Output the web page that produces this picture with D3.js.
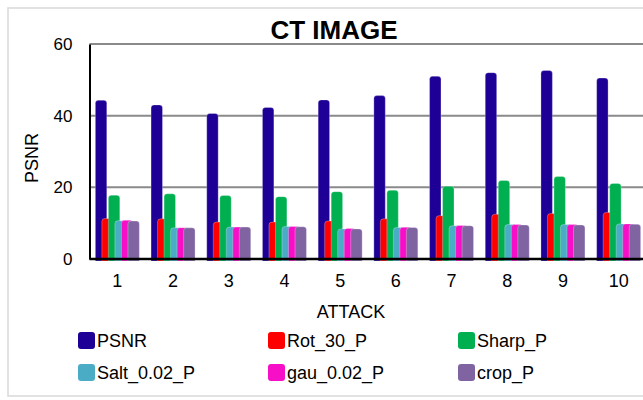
<!DOCTYPE html>
<html>
<head>
<meta charset="utf-8">
<script src="https://cdn.jsdelivr.net/npm/d3@7"></script>
<style>
  body { margin: 0; background: #fff; }
  svg { display: block; font-family: "Liberation Sans", Arial, sans-serif; }
</style>
</head>
<body>
<svg id="chart" width="643" height="400"></svg>
<script>
// data
var attacks = ["1", "2", "3", "4", "5", "6", "7", "8", "9", "10"];
var seriesNames = ["PSNR", "Rot_30_P", "Sharp_P", "Salt_0.02_P", "gau_0.02_P", "crop_P"];
var seriesColors = ["#1f0096", "#ff0000", "#00b050", "#4bacc6", "#f70fc8", "#8064a2"];
var psnr   = [44.3, 43.0, 40.6, 42.3, 44.4, 45.6, 51.0, 52.0, 52.6, 50.5];
var rot30  = [11.3, 11.2, 10.3, 10.3, 10.6, 11.2, 12.1, 12.5, 12.7, 13.0];
var sharp  = [17.8, 18.2, 17.7, 17.4, 18.8, 19.2, 20.3, 21.9, 23.0, 21.1];
var salt   = [10.7, 8.7, 8.9, 9.1, 8.4, 8.8, 9.3, 9.6, 9.6, 9.8];
var gau    = [10.8, 8.75, 8.9, 9.1, 8.5, 8.85, 9.35, 9.6, 9.6, 9.8];
var crop   = [10.6, 8.7, 8.9, 9.0, 8.4, 8.8, 9.3, 9.5, 9.5, 9.7];
var yTicks = [0, 20, 40, 60];

var allSeries = [psnr, rot30, sharp, salt, gau, crop];

var svg = d3.select("#chart");

// outer chart border (right side runs off the picture)
svg.append("rect")
  .attr("x", 8).attr("y", 8)
  .attr("width", 660).attr("height", 388)
  .attr("fill", "#fff")
  .attr("stroke", "#d9d9d9")
  .attr("stroke-width", 1.5);

var plotLeft = 89.5, plotRight = 646.5, plotTop = 44, plotBottom = 259;

var x0 = d3.scaleBand().domain(attacks).range([plotLeft, plotRight])
  .paddingInner(0.21).paddingOuter(0.105);
var bw = x0.bandwidth();
var barW = bw * 0.26;
var x1 = d3.scalePoint().domain(seriesNames).range([0, bw - barW]);
var y = d3.scaleLinear().domain([0, 60]).range([plotBottom, plotTop]);

// gridlines
svg.append("g")
  .selectAll("line")
  .data(yTicks.filter(function (d) { return d > 0; }))
  .enter().append("line")
  .attr("x1", plotLeft).attr("x2", 643)
  .attr("y1", function (d) { return y(d); })
  .attr("y2", function (d) { return y(d); })
  .attr("stroke", "#8a8a8a")
  .attr("stroke-width", 2);

// bars, one series at a time so later ones overlap earlier ones
allSeries.forEach(function (vals, si) {
  var name = seriesNames[si];
  svg.append("g")
    .selectAll("path")
    .data(vals)
    .enter().append("path")
    .attr("d", function (d, i) {
      var bx = x0(attacks[i]) + x1(name), by = y(d), b = y(0) + 2, r = 3;
      return "M" + bx + "," + b + "V" + (by + r) +
        "Q" + bx + "," + by + " " + (bx + r) + "," + by +
        "H" + (bx + barW - r) +
        "Q" + (bx + barW) + "," + by + " " + (bx + barW) + "," + (by + r) +
        "V" + b + "Z";
    })
    .attr("fill", seriesColors[si])
    .attr("stroke", "#fff")
    .attr("stroke-opacity", 0.35)
    .attr("stroke-width", 0.8);
});

// y axis
var yAxis = svg.append("g")
  .attr("transform", "translate(" + plotLeft + ",0)")
  .call(d3.axisLeft(y).tickValues(yTicks).tickSize(0).tickPadding(17));
yAxis.select(".domain").attr("stroke", "#000").attr("stroke-width", 2);
yAxis.selectAll("text").attr("font-size", 17).attr("fill", "#000")
  .attr("font-family", "Liberation Sans, Arial, sans-serif");

// x axis
var xAxis = svg.append("g")
  .attr("transform", "translate(0," + plotBottom + ")")
  .call(d3.axisBottom(x0).tickSize(0).tickPadding(15));
xAxis.select(".domain").attr("stroke", "#000").attr("stroke-width", 2.5)
  .attr("d", "M" + plotLeft + ",0H643");
xAxis.selectAll("text").attr("font-size", 18).attr("fill", "#000")
  .attr("font-family", "Liberation Sans, Arial, sans-serif");

// titles
svg.append("text")
  .attr("x", 334).attr("y", 39)
  .attr("text-anchor", "middle")
  .attr("font-size", 26).attr("font-weight", "bold")
  .text("CT IMAGE");

svg.append("text")
  .attr("x", 351).attr("y", 318)
  .attr("text-anchor", "middle")
  .attr("font-size", 18)
  .text("ATTACK");

svg.append("text")
  .attr("transform", "translate(38,158) rotate(-90)")
  .attr("text-anchor", "middle")
  .attr("font-size", 18)
  .text("PSNR");

// legend
var legCols = [78, 268, 458];
var legRows = [341, 373];
var legend = svg.append("g")
  .selectAll("g")
  .data(seriesNames)
  .enter().append("g")
  .attr("transform", function (d, i) {
    return "translate(" + legCols[i % 3] + "," + legRows[Math.floor(i / 3)] + ")";
  });
legend.append("rect")
  .attr("x", 0).attr("y", -9)
  .attr("width", 17).attr("height", 17)
  .attr("rx", 3)
  .attr("fill", function (d, i) { return seriesColors[i]; });
legend.append("text")
  .attr("x", 19).attr("y", 6)
  .attr("font-size", 18)
  .text(function (d) { return d; });
</script>
</body>
</html>
